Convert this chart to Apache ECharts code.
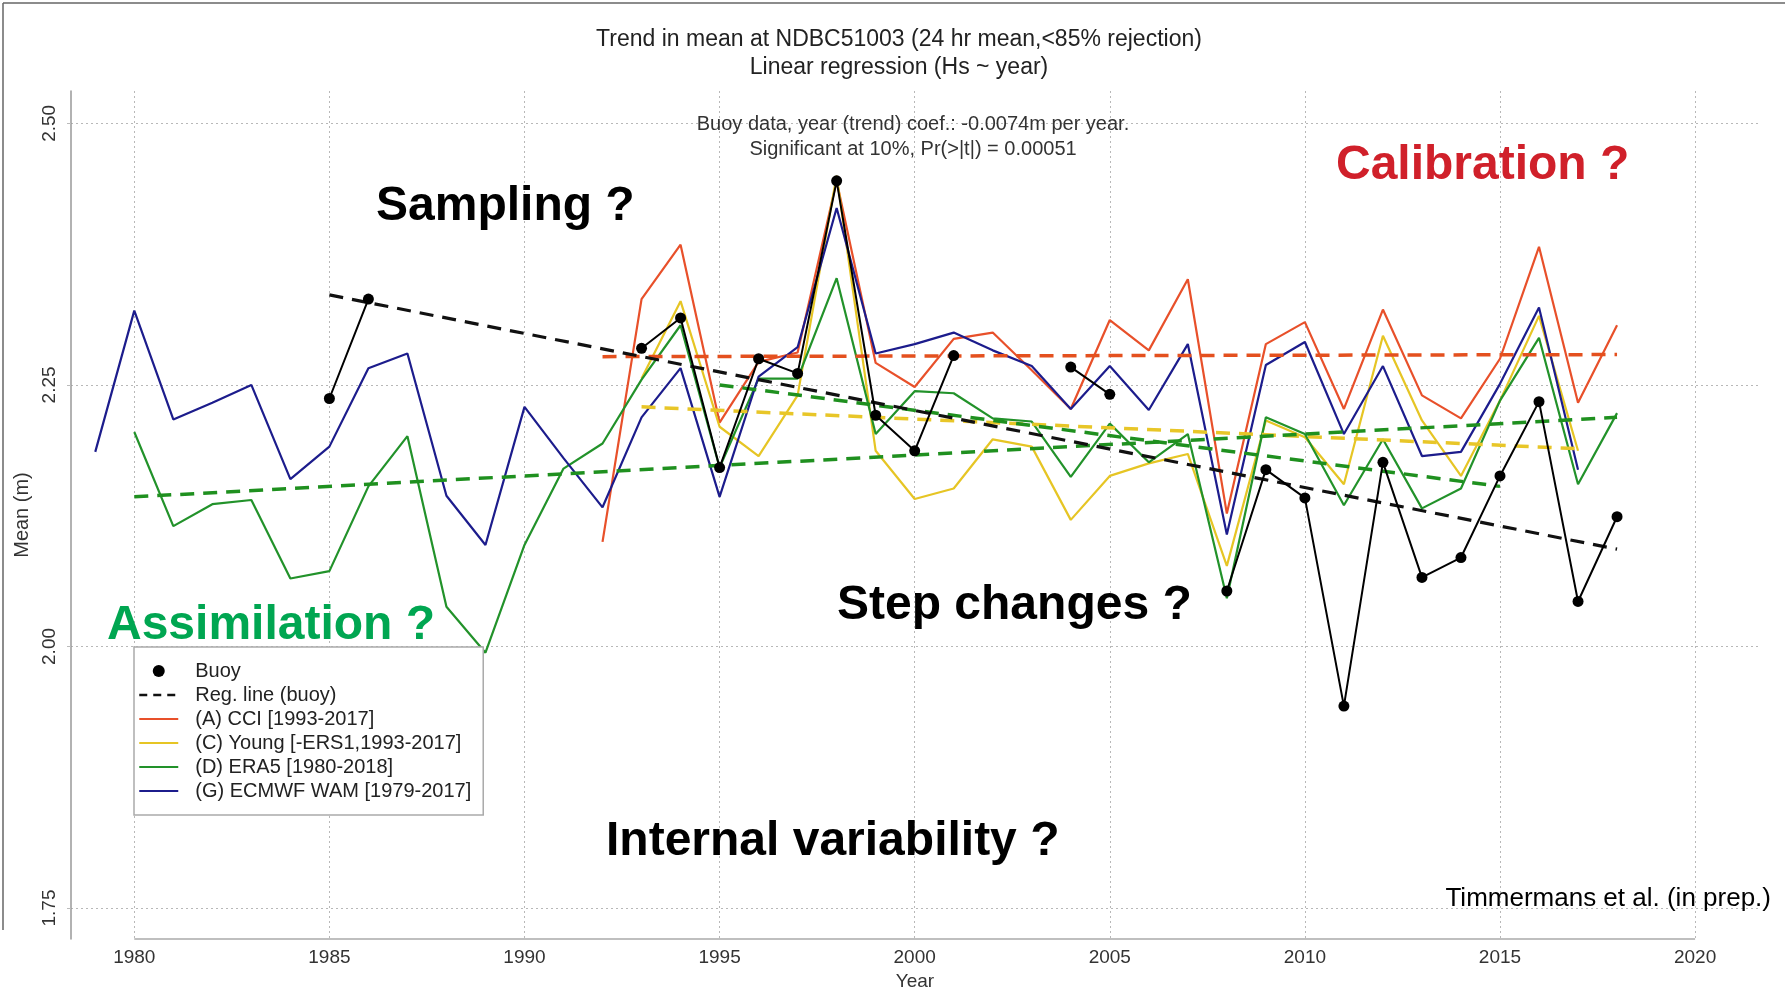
<!DOCTYPE html>
<html>
<head>
<meta charset="utf-8">
<title>Trend in mean at NDBC51003</title>
<script src="https://cdn.jsdelivr.net/npm/echarts@6/dist/echarts.min.js"></script>
<style>
  html, body { margin: 0; padding: 0; background: #fff; }
  #chart { width: 1785px; height: 989px; }
</style>
</head>
<body>
<div id="chart"></div>
<script>
// annual mean Hs (m)
const xTicks = [1980, 1985, 1990, 1995, 2000, 2005, 2010, 2015, 2020];
const yTicks = [1.75, 2.00, 2.25, 2.50];

const buoyYears = [1985, 1986, 1987, 1988, 1989, 1990, 1991, 1992, 1993, 1994, 1995, 1996, 1997, 1998, 1999, 2000, 2001,
    2002, 2003, 2004, 2005, 2006, 2007, 2008, 2009, 2010, 2011, 2012, 2013, 2014, 2015, 2016, 2017, 2018];
const buoyValues = [2.237, 2.332, null, null, null, null, null, null, 2.285, 2.314, 2.171, 2.275, 2.261, 2.445, 2.221, 2.187, 2.278,
    null, null, 2.267, 2.241, null, null, 2.053, 2.169, 2.142, 1.943, 2.176, 2.066, 2.085, 2.163, 2.234, 2.043, 2.124];

const cciStart = 1992;
const cciValues = [2.100, 2.332, 2.384, 2.214, 2.272, 2.281, 2.445, 2.271, 2.248, 2.294,
    2.300, 2.264, 2.227, 2.312, 2.283, 2.351, 2.127, 2.289, 2.310, 2.227,
    2.322, 2.240, 2.218, 2.275, 2.382, 2.233, 2.307];

const youngStart = 1993;
const youngValues = [2.256, 2.330, 2.210, 2.182, 2.240, 2.450, 2.187, 2.141, 2.151, 2.198,
    2.191, 2.121, 2.163, 2.175, 2.184, 2.077, 2.216, 2.200, 2.155, 2.297,
    2.216, 2.163, 2.235, 2.316, 2.187];

const era5Start = 1980;
const era5Values = [2.205, 2.115, 2.136, 2.140, 2.065, 2.072, 2.153, 2.201, 2.038, 1.994,
    2.097, 2.170, 2.194, 2.255, 2.307, 2.171, 2.256, 2.256, 2.352, 2.203,
    2.244, 2.242, 2.218, 2.215, 2.162, 2.213, 2.176, 2.203, 2.046, 2.219,
    2.203, 2.135, 2.198, 2.132, 2.151, 2.235, 2.295, 2.155, 2.223];

const wamStart = 1979;
const wamValues = [2.186, 2.321, 2.217, 2.233, 2.250, 2.160, 2.191, 2.266, 2.280, 2.144,
    2.097, 2.229, 2.180, 2.133, 2.219, 2.266, 2.143, 2.258, 2.286, 2.419,
    2.280, 2.289, 2.300, 2.283, 2.268, 2.227, 2.268, 2.226, 2.289, 2.107,
    2.269, 2.291, 2.203, 2.268, 2.182, 2.186, 2.251, 2.324, 2.169];

// fitted regression lines: [year, value] at both ends
const buoyReg = [[1985, 2.336], [2018, 2.093]];
const cciReg = [[1992, 2.277], [2018, 2.279]];
const youngReg = [[1993, 2.229], [2017, 2.189]];
const era5Reg = [[1980, 2.143], [2018, 2.219]];
const era5SubReg = [[1995, 2.250], [2015, 2.153]];

const FONT = '"Liberation Sans", Arial, sans-serif';
const C_CCI = '#e8502a', C_YOUNG = '#e6c524', C_ERA5 = '#22922a', C_WAM = '#1c1c8c';
const X_MIN = 1978.378, X_MAX = 2021.638, Y_MIN = 1.7204, Y_MAX = 2.5309;

function pairs(start, values) {
    return values.map((v, i) => [start + i, v]);
}

function modelLine(name, color, data) {
    return {
        name, type: 'line', data, symbol: 'none', z: 2,
        lineStyle: { color, width: 2.2 }, itemStyle: { color }
    };
}

function regLine(name, color, data, width) {
    return {
        name, type: 'line', data, symbol: 'none', z: 3,
        lineStyle: { color, width: width || 3.5, type: [14, 9] }, itemStyle: { color }
    };
}

function note(text, x, y, size, color, align) {
    return {
        type: 'text', x, y, z: 10,
        style: {
            text, fill: color, font: size, align: align || 'left', textAlign: align || 'left',
            verticalAlign: 'middle', textVerticalAlign: 'middle'
        }
    };
}

// legend entries drawn as plain lines (no marker)
function lineEntry(name, extra) {
    return Object.assign({ name, itemStyle: { opacity: 0 } }, extra || {});
}

const chart = echarts.init(document.getElementById('chart'));
const bigFont = 'bold 48px ' + FONT;
const gridLine = { color: '#b8b8b8', type: [2, 3], width: 1 };

chart.setOption({
    animation: false,
    backgroundColor: '#fff',
    textStyle: { fontFamily: FONT },
    grid: { left: 71, right: 26, top: 91, bottom: 50, outerBoundsMode: 'none' },
    xAxis: {
        type: 'value', min: X_MIN, max: X_MAX,
        name: 'Year', nameLocation: 'middle', nameGap: 31,
        nameTextStyle: { fontSize: 19, color: '#333', fontFamily: FONT },
        axisLine: { show: false },
        axisTick: { show: false, customValues: xTicks },
        axisLabel: { customValues: xTicks, fontSize: 19, color: '#333', margin: 9, formatter: v => String(v) },
        splitLine: { show: true, lineStyle: gridLine }
    },
    yAxis: {
        type: 'value', min: Y_MIN, max: Y_MAX,
        name: 'Mean (m)', nameLocation: 'middle', nameGap: 38,
        nameTextStyle: { fontSize: 20, color: '#333', fontFamily: FONT },
        axisLine: { show: true, lineStyle: { color: '#999', width: 1.5 } },
        axisTick: { show: true, length: 4, customValues: yTicks, lineStyle: { color: '#bbb' } },
        axisLabel: {
            customValues: yTicks, rotate: 90, fontSize: 19, color: '#333', margin: 12,
            formatter: v => v.toFixed(2)
        },
        splitLine: { show: true, lineStyle: gridLine }
    },
    legend: {
        orient: 'vertical', left: 134, top: 647,
        padding: [14, 12, 14, 4], itemGap: 4, itemWidth: 39, itemHeight: 12,
        backgroundColor: '#fff', borderColor: '#aaa', borderWidth: 1.5,
        textStyle: { fontSize: 20, color: '#222', fontFamily: FONT, padding: [0, 0, 0, 12] },
        selectedMode: false,
        data: [
            { name: 'Buoy', icon: 'circle', itemStyle: { opacity: 1 } },
            lineEntry('Reg. line (buoy)', { lineStyle: { type: [8, 6], width: 2.5 } }),
            lineEntry('(A) CCI [1993-2017]'),
            lineEntry('(C) Young [-ERS1,1993-2017]'),
            lineEntry('(D) ERA5 [1980-2018]'),
            lineEntry('(G) ECMWF WAM [1979-2017]')
        ]
    },
    series: [
        modelLine('(A) CCI [1993-2017]', C_CCI, pairs(cciStart, cciValues)),
        modelLine('(C) Young [-ERS1,1993-2017]', C_YOUNG, pairs(youngStart, youngValues)),
        modelLine('(D) ERA5 [1980-2018]', C_ERA5, pairs(era5Start, era5Values)),
        modelLine('(G) ECMWF WAM [1979-2017]', C_WAM, pairs(wamStart, wamValues)),
        regLine('CCI reg', '#e4501e', cciReg),
        regLine('Young reg', '#e8c628', youngReg),
        regLine('ERA5 reg', '#1f901f', era5Reg),
        regLine('ERA5 reg (1995-2015)', '#1f901f', era5SubReg),
        regLine('Reg. line (buoy)', '#111', buoyReg, 3.2),
        {
            name: 'Buoy', type: 'line', z: 5,
            data: buoyYears.map((y, i) => [y, buoyValues[i]]),
            connectNulls: false,
            symbol: 'circle', symbolSize: 11, showSymbol: true,
            lineStyle: { color: '#000', width: 2 }, itemStyle: { color: '#000' }
        }
    ]
});

// R-style x axis line: only spans the first to the last tick
const p0 = chart.convertToPixel({ gridIndex: 0 }, [xTicks[0], Y_MIN]);
const p1 = chart.convertToPixel({ gridIndex: 0 }, [xTicks[xTicks.length - 1], Y_MIN]);

chart.setOption({
    graphic: [
        { type: 'line', shape: { x1: p0[0], y1: p0[1], x2: p1[0], y2: p1[1] }, style: { stroke: '#aaa', lineWidth: 1.5 } },
        { type: 'line', shape: { x1: 3, y1: 3, x2: 1785, y2: 3 }, style: { stroke: '#666', lineWidth: 1.5 } },
        { type: 'line', shape: { x1: 3, y1: 3, x2: 3, y2: 930 }, style: { stroke: '#666', lineWidth: 1.5 } },
        note('Trend in mean at NDBC51003 (24 hr mean,<85% rejection)', 899, 40, '23px ' + FONT, '#222', 'center'),
        note('Linear regression (Hs ~ year)', 899, 68, '23px ' + FONT, '#222', 'center'),
        note('Buoy data, year (trend) coef.: -0.0074m per year.', 913, 124, '20px ' + FONT, '#333', 'center'),
        note('Significant at 10%, Pr(>|t|) = 0.00051', 913, 149, '20px ' + FONT, '#333', 'center'),
        note('Sampling ?', 376, 207, bigFont, '#000'),
        note('Calibration ?', 1336, 166, bigFont, '#d0202a'),
        note('Assimilation ?', 107, 626, bigFont, '#00a651'),
        note('Step changes ?', 837, 606, bigFont, '#000'),
        note('Internal variability ?', 606, 842, bigFont, '#000'),
        note('Timmermans et al. (in prep.)', 1771, 899, '26px ' + FONT, '#000', 'right')
    ]
});
</script>
</body>
</html>
